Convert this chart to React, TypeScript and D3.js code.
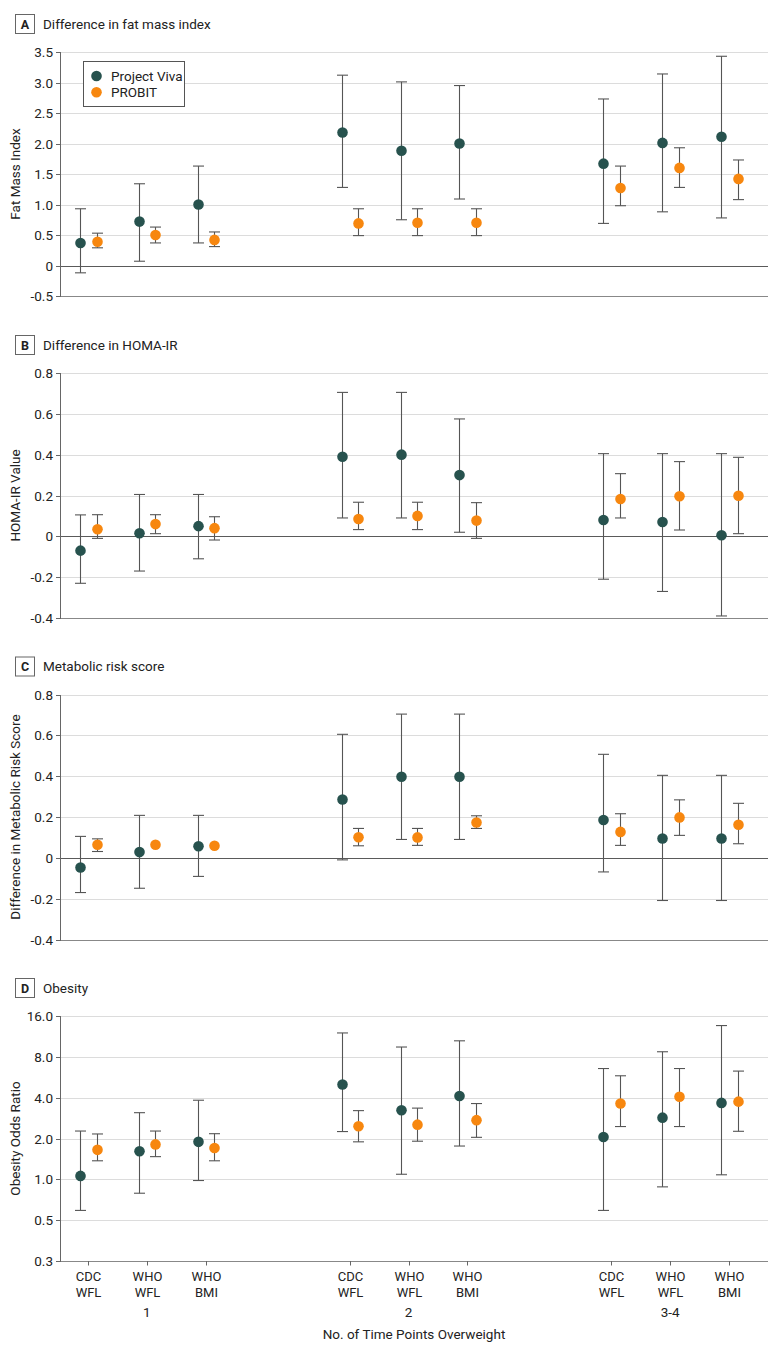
import React from "react";
import * as d3 from "d3";

// ---------- data ----------
const groups = ["1", "2", "3-4"];
const references = [["CDC", "WFL"], ["WHO", "WFL"], ["WHO", "BMI"]];

// Panel A: difference in fat mass index
const fmiVivaEst = [0.37, 0.72, 1.0, 2.18, 1.88, 2.0, 1.67, 2.01, 2.11];
const fmiVivaLo = [-0.12, 0.07, 0.37, 1.28, 0.75, 1.09, 0.69, 0.88, 0.78];
const fmiVivaHi = [0.93, 1.34, 1.63, 3.12, 3.01, 2.95, 2.73, 3.14, 3.43];
const fmiProbitEst = [0.39, 0.5, 0.42, 0.69, 0.7, 0.7, 1.27, 1.6, 1.42];
const fmiProbitLo = [0.29, 0.37, 0.31, 0.49, 0.49, 0.49, 0.98, 1.28, 1.08];
const fmiProbitHi = [0.53, 0.63, 0.55, 0.93, 0.93, 0.93, 1.63, 1.93, 1.73];

// Panel B: difference in HOMA-IR
const homaVivaEst = [-0.07, 0.015, 0.05, 0.39, 0.4, 0.3, 0.08, 0.07, 0.005];
const homaVivaLo = [-0.23, -0.17, -0.11, 0.09, 0.09, 0.02, -0.21, -0.27, -0.39];
const homaVivaHi = [0.105, 0.205, 0.205, 0.705, 0.705, 0.575, 0.405, 0.405, 0.405];
const homaProbitEst = [0.035, 0.06, 0.04, 0.085, 0.1, 0.077, 0.183, 0.196, 0.199];
const homaProbitLo = [-0.01, 0.013, -0.018, 0.033, 0.033, -0.01, 0.09, 0.031, 0.013];
const homaProbitHi = [0.106, 0.106, 0.096, 0.167, 0.167, 0.165, 0.307, 0.366, 0.387];

// Panel C: metabolic risk score
const mrsVivaEst = [-0.047, 0.028, 0.057, 0.286, 0.397, 0.397, 0.185, 0.095, 0.095];
const mrsVivaLo = [-0.17, -0.149, -0.091, -0.01, 0.09, 0.09, -0.069, -0.209, -0.209];
const mrsVivaHi = [0.105, 0.208, 0.208, 0.605, 0.704, 0.704, 0.507, 0.404, 0.404];
const mrsProbitEst = [0.064, 0.064, 0.059, 0.101, 0.1, 0.173, 0.127, 0.198, 0.162];
const mrsProbitLo = [0.031, null, null, 0.059, 0.061, 0.144, 0.061, 0.11, 0.069];
const mrsProbitHi = [0.093, null, null, 0.144, 0.144, 0.206, 0.216, 0.284, 0.267];

// Panel D: obesity odds ratio
const obVivaEst = [1.06, 1.61, 1.89, 5.0, 3.23, 4.12, 2.05, 2.85, 3.66];
const obVivaLo = [0.59, 0.79, 0.98, 2.25, 1.09, 1.76, 0.59, 0.88, 1.08];
const obVivaHi = [2.27, 3.1, 3.83, 12.0, 9.45, 10.5, 6.56, 8.72, 13.6];
const obProbitEst = [1.65, 1.81, 1.7, 2.46, 2.53, 2.73, 3.62, 4.06, 3.74];
const obProbitLo = [1.37, 1.47, 1.37, 1.89, 1.91, 2.04, 2.45, 2.45, 2.26];
const obProbitHi = [2.16, 2.27, 2.17, 3.21, 3.35, 3.62, 5.8, 6.56, 6.28];

// tick values / labels
const fmiTicks = [-0.5, 0, 0.5, 1.0, 1.5, 2.0, 2.5, 3.0, 3.5];
const fmiTickLabels = ["-0.5", "0", "0.5", "1.0", "1.5", "2.0", "2.5", "3.0", "3.5"];
const smallTicks = [-0.4, -0.2, 0, 0.2, 0.4, 0.6, 0.8];
const smallTickLabels = ["-0.4", "-0.2", "0", "0.2", "0.4", "0.6", "0.8"];
const orTicks = [0.25, 0.5, 1, 2, 4, 8, 16];
const orTickLabels = ["0.3", "0.5", "1.0", "2.0", "4.0", "8.0", "16.0"];

const seriesNames = ["Project Viva", "PROBIT"];

// ---------- style ----------
const FONT = "Roboto, 'Noto Sans', sans-serif";
const VIVA = "#27524e";
const PROB = "#f7870f";
const TEXT = "#222";
const W = 780;
const H = 1353;
const LEFT = 60;
const RIGHT = 768;

type Panel = {
  letter: string;
  title: string;
  yTitle: string;
  top: number;
  height: number;
  log: boolean;
  domain: [number, number];
  ticks: number[];
  tickLabels: string[];
  series: { est: number[]; lo: (number | null)[]; hi: (number | null)[]; color: string; dx: number }[];
};

const panels: Panel[] = [
  {
    letter: "A", title: "Difference in fat mass index", yTitle: "Fat Mass Index",
    top: 52, height: 244, log: false, domain: [-0.5, 3.5], ticks: fmiTicks, tickLabels: fmiTickLabels,
    series: [
      { est: fmiVivaEst, lo: fmiVivaLo, hi: fmiVivaHi, color: VIVA, dx: -8 },
      { est: fmiProbitEst, lo: fmiProbitLo, hi: fmiProbitHi, color: PROB, dx: 8.5 },
    ],
  },
  {
    letter: "B", title: "Difference in HOMA-IR", yTitle: "HOMA-IR Value",
    top: 373, height: 245, log: false, domain: [-0.4, 0.8], ticks: smallTicks, tickLabels: smallTickLabels,
    series: [
      { est: homaVivaEst, lo: homaVivaLo, hi: homaVivaHi, color: VIVA, dx: -8 },
      { est: homaProbitEst, lo: homaProbitLo, hi: homaProbitHi, color: PROB, dx: 8.5 },
    ],
  },
  {
    letter: "C", title: "Metabolic risk score", yTitle: "Difference in Metabolic Risk Score",
    top: 694.5, height: 245, log: false, domain: [-0.4, 0.8], ticks: smallTicks, tickLabels: smallTickLabels,
    series: [
      { est: mrsVivaEst, lo: mrsVivaLo, hi: mrsVivaHi, color: VIVA, dx: -8 },
      { est: mrsProbitEst, lo: mrsProbitLo, hi: mrsProbitHi, color: PROB, dx: 8.5 },
    ],
  },
  {
    letter: "D", title: "Obesity", yTitle: "Obesity Odds Ratio",
    top: 1016, height: 245, log: true, domain: [0.25, 16], ticks: orTicks, tickLabels: orTickLabels,
    series: [
      { est: obVivaEst, lo: obVivaLo, hi: obVivaHi, color: VIVA, dx: -8 },
      { est: obProbitEst, lo: obProbitLo, hi: obProbitHi, color: PROB, dx: 8.5 },
    ],
  },
];

// category index -> x slot (three groups separated by a gap)
const slots = groups.flatMap((_, g) => references.map((_, j) => g * 4.44 + j));
const x = d3.scaleLinear().domain([0, 10.88]).range([88, 729]);

function PanelView({ p }: { p: Panel }) {
  const bottom = p.top + p.height;
  const y: any = p.log
    ? d3.scaleLog().base(2).domain(p.domain).range([bottom, p.top])
    : d3.scaleLinear().domain(p.domain).range([bottom, p.top]);
  const cy = (p.top + bottom) / 2;
  return (
    <g>
      {/* header */}
      <rect x={15.5} y={p.top - 37.5} width={19} height={19} fill="#fff" stroke="#666" strokeWidth={1} />
      <text x={25} y={p.top - 23.5} textAnchor="middle" fontSize={12.5} fontWeight="bold" fill={TEXT}>{p.letter}</text>
      <text x={43} y={p.top - 23.5} fontSize={13.5} fill={TEXT}>{p.title}</text>

      {/* gridlines */}
      {p.ticks.map((t, i) => {
        const yy = Math.round(y(t)) + 0.5;
        const isBottom = i === 0;
        const isZero = !p.log && t === 0;
        return (
          <line key={"g" + i} x1={LEFT} x2={RIGHT} y1={yy} y2={yy}
            stroke={isZero ? "#5a5a5a" : isBottom ? "#888" : "#dcdcdc"}
            strokeWidth={isZero || isBottom ? 1.2 : 1.2} />
        );
      })}
      {/* y axis */}
      <line x1={LEFT + 0.5} x2={LEFT + 0.5} y1={Math.round(y(p.domain[1]))} y2={Math.round(y(p.domain[0])) + 1} stroke="#666" />
      {p.ticks.map((t, i) => {
        const yy = Math.round(y(t)) + 0.5;
        return (
          <g key={"t" + i}>
            <line x1={56} x2={LEFT} y1={yy} y2={yy} stroke="#666" />
            <text x={53} y={yy} dy="0.35em" textAnchor="end" fontSize={13.5} fill={TEXT}>{p.tickLabels[i]}</text>
          </g>
        );
      })}
      <text transform={`translate(20,${cy}) rotate(-90)`} textAnchor="middle" fontSize={13.5} fill={TEXT}>{p.yTitle}</text>

      {/* error bars and points */}
      {p.series.map((s, si) => (
        <g key={"s" + si}>
          {s.est.map((v, i) => {
            const cx = Math.round(x(slots[i]) + s.dx) + 0.5;
            const lo = s.lo[i];
            const hi = s.hi[i];
            return (
              <g key={i}>
                {lo != null && hi != null && (
                  <g stroke="#555" strokeWidth={1.1}>
                    <line x1={cx} x2={cx} y1={y(hi)} y2={y(lo)} />
                    <line x1={cx - 5.5} x2={cx + 5.5} y1={y(hi)} y2={y(hi)} />
                    <line x1={cx - 5.5} x2={cx + 5.5} y1={y(lo)} y2={y(lo)} />
                  </g>
                )}
                <circle cx={cx} cy={y(v)} r={5.3} fill={s.color} />
              </g>
            );
          })}
        </g>
      ))}
    </g>
  );
}

export default function App() {
  const pD = panels[3];
  const axisY = pD.top + pD.height;
  return (
    <div style={{ position: "absolute", left: 0, top: 0 }}>
      <svg width={W} height={H} fontFamily={FONT} style={{ display: "block", background: "#fff" }}>
        {panels.map((p) => <PanelView key={p.letter} p={p} />)}

        {/* legend (panel A) */}
        <g>
          <rect x={83.5} y={61.5} width={101} height={45} fill="#fff" stroke="#555" />
          {seriesNames.map((n, i) => (
            <g key={n}>
              <circle cx={96.5} cy={76 + i * 16.3} r={5.3} fill={i === 0 ? VIVA : PROB} />
              <text x={111} y={76 + i * 16.3} dy="0.35em" fontSize={13.5} fill={TEXT}>{n}</text>
            </g>
          ))}
        </g>

        {/* category axis for panel D */}
        {slots.map((s, i) => {
          const cx = Math.round(x(s)) + 0.5;
          const ref = references[i % 3];
          return (
            <g key={"c" + i}>
              <line x1={cx} x2={cx} y1={axisY} y2={axisY + 4.5} stroke="#666" />
              <text x={cx} y={1281} textAnchor="middle" fontSize={13} fill={TEXT}>{ref[0]}</text>
              <text x={cx} y={1296.5} textAnchor="middle" fontSize={13} fill={TEXT}>{ref[1]}</text>
            </g>
          );
        })}
        {groups.map((g, gi) => (
          <text key={g} x={x(slots[gi * 3 + 1])} y={1317} textAnchor="middle" fontSize={13.5} fill={TEXT}>{g}</text>
        ))}
        <text x={(LEFT + RIGHT) / 2} y={1339} textAnchor="middle" fontSize={13.5} fill={TEXT}>No. of Time Points Overweight</text>
      </svg>
    </div>
  );
}
